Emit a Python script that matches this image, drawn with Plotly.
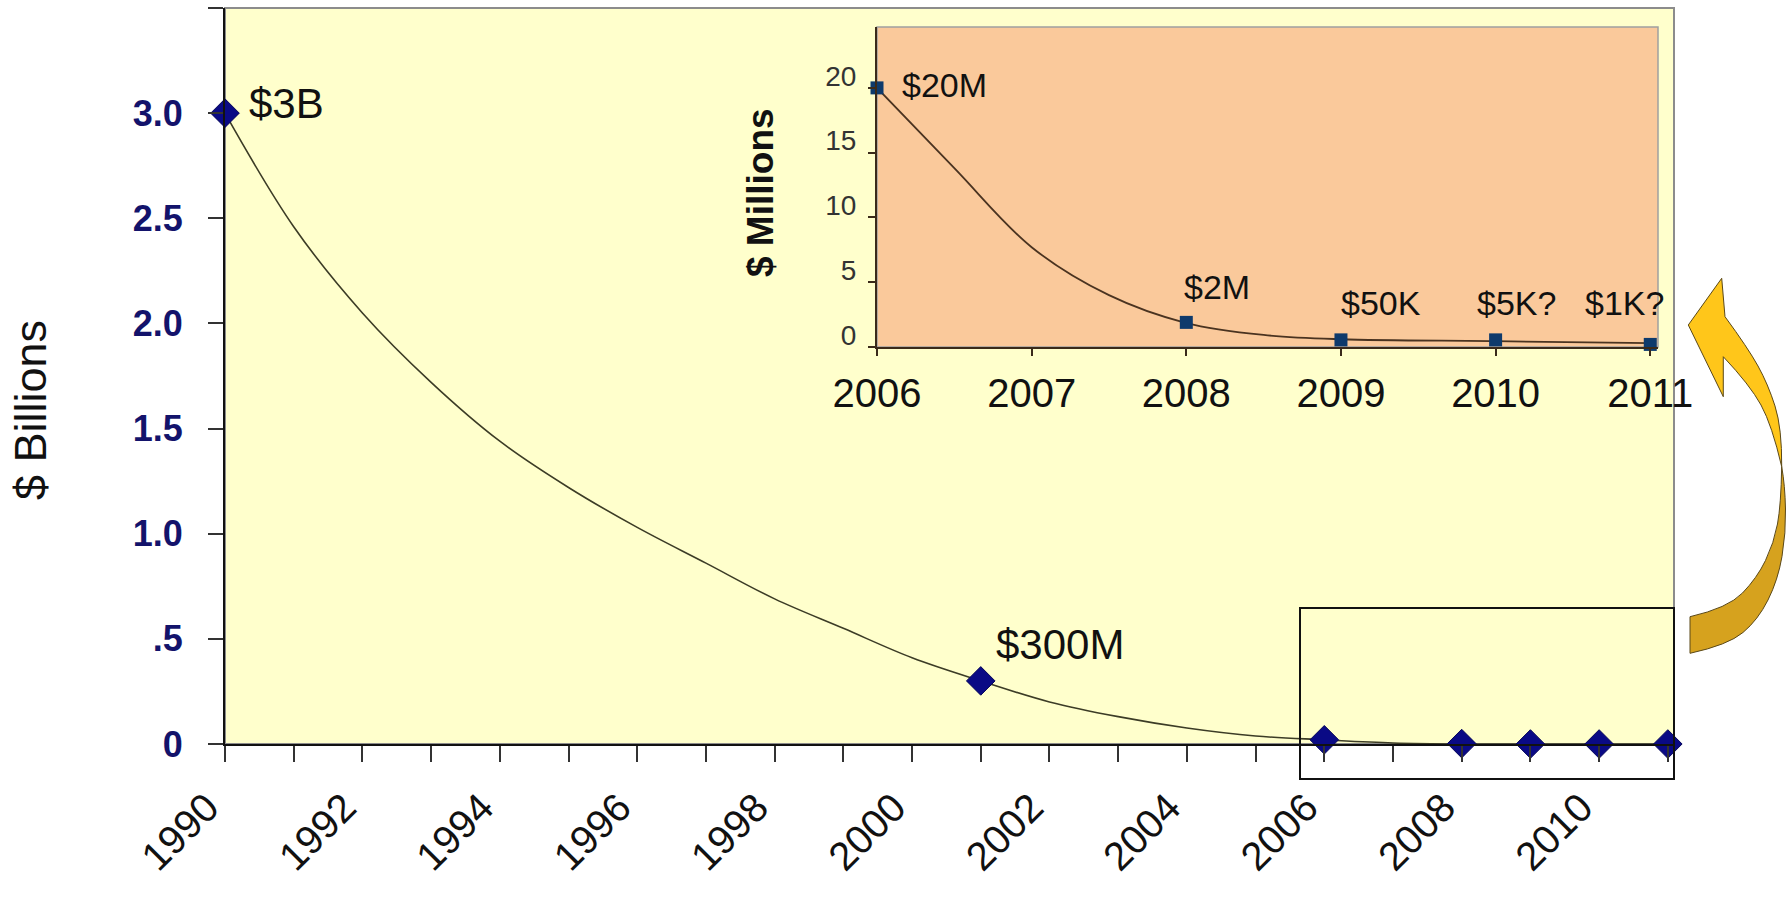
import plotly.graph_objects as go

# ---------------- data ----------------
main_years = [1990, 2001, 2006, 2008, 2009, 2010, 2011]
main_values_b = [3.0, 0.3, 0.02, 0.002, 0.00005, 0.000005, 0.000001]
main_label_years = [1990, 2001]
main_label_values = [3.0, 0.3]
main_label_texts = ["$3B", "$300M"]

# smoothed trend curve, values at each year
curve_years = [1990, 1991, 1992, 1993, 1994, 1995, 1996, 1997, 1998, 1999, 2000,
               2001, 2002, 2003, 2004, 2005, 2006, 2007, 2008, 2009, 2010, 2011]
curve_values_b = [3.0, 2.46, 2.05, 1.72, 1.44, 1.22, 1.03, 0.86, 0.69, 0.55, 0.41,
                  0.30, 0.20, 0.13, 0.076, 0.038, 0.02, 0.005, 0.0, 0.0, 0.0, 0.0]

main_xtick_years = [1990, 1992, 1994, 1996, 1998, 2000, 2002, 2004, 2006, 2008, 2010]
main_ytick_vals = [0, 0.5, 1.0, 1.5, 2.0, 2.5, 3.0, 3.5]
main_ytick_text = ["0", ".5", "1.0", "1.5", "2.0", "2.5", "3.0", ""]

inset_years = [2006, 2008, 2009, 2010, 2011]
inset_values_m = [20, 1.9, 0.55, 0.55, 0.2]
inset_labels = ["$20M", "$2M", "$50K", "$5K?", "$1K?"]

inset_curve_years = [2006, 2006.5, 2007, 2007.5, 2008, 2008.5, 2009, 2010, 2011]
inset_curve_values_m = [20, 13.8, 7.7, 4.0, 1.85, 0.93, 0.6, 0.45, 0.3]

inset_xtick_years = [2006, 2007, 2008, 2009, 2010, 2011]
inset_ytick_vals = [0, 5, 10, 15, 20]

# ---------------- styling ----------------
W, H = 1786, 903
FONT = "Liberation Sans, Arial, sans-serif"


def px(x):
    return x / W


def py(y):
    return 1 - y / H


main_label_shift = [(22, 10, "left"), (13, 36, "left")]
inset_label_shift = [(23, 3, "left"), (31, 35, "center"), (40, 37, "center"),
                     (21, 37, "center"), (-26, 41, "center")]

fig = go.Figure()

# main trend curve
fig.add_trace(go.Scatter(
    x=curve_years, y=curve_values_b, mode="lines",
    line=dict(color="#3C3C26", width=1.6, shape="spline", smoothing=1.0),
    xaxis="x", yaxis="y", hoverinfo="skip"))
# main markers
fig.add_trace(go.Scatter(
    x=main_years, y=main_values_b, mode="markers",
    marker=dict(symbol="diamond", size=22, color="#0A0A85",
                line=dict(color="#06065A", width=1)),
    cliponaxis=False, xaxis="x", yaxis="y"))

# inset curve
fig.add_trace(go.Scatter(
    x=inset_curve_years, y=inset_curve_values_m, mode="lines",
    line=dict(color="#4A3320", width=1.8, shape="spline", smoothing=1.0),
    xaxis="x2", yaxis="y2", hoverinfo="skip"))
fig.add_trace(go.Scatter(
    x=inset_years, y=inset_values_m, mode="markers",
    marker=dict(symbol="square", size=13, color="#0E3A6C"),
    cliponaxis=False, xaxis="x2", yaxis="y2"))

annotations = []
for (xx, yy, t), (xs, ys, anc) in zip(zip(main_label_years, main_label_values, main_label_texts),
                                       main_label_shift):
    annotations.append(dict(x=xx, y=yy, xref="x", yref="y", text=t, showarrow=False,
                            xanchor=anc, yanchor="middle", xshift=xs, yshift=ys,
                            font=dict(family=FONT, size=42, color="#111111")))
for (xx, yy, t), (xs, ys, anc) in zip(zip(inset_years, inset_values_m, inset_labels),
                                       inset_label_shift):
    annotations.append(dict(x=xx, y=yy, xref="x2", yref="y2", text=t, showarrow=False,
                            xanchor=anc, yanchor="middle", xshift=xs, yshift=ys,
                            font=dict(family=FONT, size=34, color="#111111")))

annotations.append(dict(x=px(30), y=py(410), xref="paper", yref="paper", text="$ Billions",
                        textangle=-90, showarrow=False, xanchor="center", yanchor="middle",
                        font=dict(family=FONT, size=45, color="#111111")))
annotations.append(dict(x=px(760), y=py(193), xref="paper", yref="paper", text="$ Millions",
                        textangle=-90, showarrow=False, xanchor="center", yanchor="middle",
                        font=dict(family=FONT, size=37, color="#111111", weight="bold")))


# ---- curved arrow (decoration), pixel outline converted to paper ----
def P(a, b):
    return f"{px(a):.5f},{py(b):.5f}"


def smooth(points):
    # quadratic smoothing through a list of guide points (first and last are hit)
    out = []
    for i in range(1, len(points) - 1):
        c = points[i]
        if i < len(points) - 2:
            n = points[i + 1]
            e = ((c[0] + n[0]) / 2, (c[1] + n[1]) / 2)
        else:
            e = points[-1]
        out.append(f"Q {P(*c)} {P(*e)}")
    return " ".join(out)


upper_path = (
    f"M {P(1721.7, 278.3)} L {P(1688.3, 325)} L {P(1723.3, 396.7)} L {P(1723.3, 356.7)} "
    + smooth([(1723.3, 356.7), (1750, 385), (1772, 425), (1781.7, 466.7)]) + " "
    + smooth([(1781.7, 466.7), (1782, 428), (1768, 384), (1748, 348), (1725, 316.7)])
    + f" L {P(1721.7, 278.3)} Z"
)
lower_path = (
    f"M {P(1781.7, 466.7)} "
    + smooth([(1781.7, 466.7), (1781, 505), (1774, 543), (1757, 578), (1728, 608), (1690, 616.7)])
    + f" L {P(1690, 653.3)} "
    + smooth([(1690, 653.3), (1728, 645), (1758, 620), (1778, 580), (1786, 533), (1785, 485),
              (1781.7, 466.7)])
    + " Z"
)

shapes = [
    # main plot background
    dict(type="rect", xref="x domain", yref="y domain", x0=0, x1=1, y0=0, y1=1,
         fillcolor="#FFFFCC", line=dict(color="#8C8C8C", width=2), layer="below"),
    # inset plot background
    dict(type="rect", xref="x2 domain", yref="y2 domain", x0=0, x1=1, y0=0, y1=1,
         fillcolor="#FAC99B", line=dict(color="#A0A0A0", width=1.5), layer="below"),
    # zoom box
    dict(type="rect", xref="paper", yref="paper", x0=px(1300), x1=px(1674),
         y0=py(779), y1=py(608), line=dict(color="#111111", width=2), layer="above"),
    dict(type="path", xref="paper", yref="paper", path=lower_path,
         fillcolor="#D6A21E", line=dict(color="#5A4818", width=1)),
    dict(type="path", xref="paper", yref="paper", path=upper_path,
         fillcolor="#FFC61A", line=dict(color="#5A4818", width=1)),
]

fig.update_layout(
    width=W, height=H, autosize=False,
    margin=dict(l=0, r=0, t=0, b=0, pad=0, autoexpand=False),
    paper_bgcolor="white", plot_bgcolor="rgba(0,0,0,0)",
    showlegend=False,
    font=dict(family=FONT),
    annotations=annotations,
    shapes=shapes,
    xaxis=dict(
        domain=[px(225), px(1674)], range=[1990, 2011.09], anchor="y", automargin=False,
        tickmode="array", tickvals=main_xtick_years,
        ticktext=[str(v) for v in main_xtick_years],
        tickangle=-45, ticks="outside", ticklen=16, tickwidth=2, tickcolor="#333333",
        minor=dict(dtick=1, tick0=1990, ticks="outside", ticklen=16, tickwidth=2,
                   tickcolor="#333333", showgrid=False),
        showline=True, linecolor="#111111", linewidth=2,
        showgrid=False, zeroline=False,
        tickfont=dict(family=FONT, size=40, color="#111111"),
        ticklabelstandoff=6, ticklabelshift=-18,
    ),
    yaxis=dict(
        domain=[py(744), py(8)], range=[0, 3.5], anchor="x", automargin=False,
        tickmode="array", tickvals=main_ytick_vals, ticktext=main_ytick_text,
        ticks="outside", ticklen=15, tickwidth=2, tickcolor="#333333",
        showline=True, linecolor="#111111", linewidth=2,
        showgrid=False, zeroline=False,
        tickfont=dict(family=FONT, size=36, color="#13136B", weight="bold"),
        ticklabelstandoff=18,
    ),
    xaxis2=dict(
        domain=[px(877), px(1658)], range=[2006, 2011.05], anchor="y2", automargin=False,
        tickmode="array", tickvals=inset_xtick_years,
        ticktext=[str(v) for v in inset_xtick_years],
        ticks="outside", ticklen=7, tickwidth=2, tickcolor="#3A2A1A",
        showline=True, linecolor="#3A2A1A", linewidth=2,
        showgrid=False, zeroline=False,
        tickfont=dict(family=FONT, size=40, color="#111111"),
        ticklabelstandoff=3,
    ),
    yaxis2=dict(
        domain=[py(347), py(27)], range=[0, 24.7], anchor="x2", automargin=False,
        tickmode="array", tickvals=inset_ytick_vals,
        ticks="outside", ticklen=7, tickwidth=2, tickcolor="#3A2A1A",
        showline=True, linecolor="#3A2A1A", linewidth=2,
        showgrid=False, zeroline=False,
        tickfont=dict(family=FONT, size=28, color="#333333"),
        ticklabelstandoff=6, ticklabelshift=-12,
    ),
)

fig.write_html("out.html")
